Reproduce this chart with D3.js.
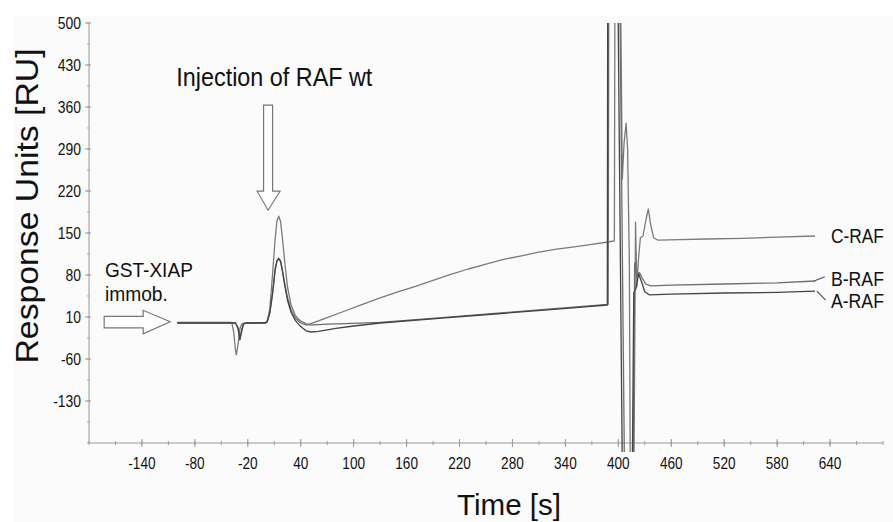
<!DOCTYPE html>
<html lang="en">
<head>
<meta charset="utf-8">
<title>RAF binding to GST-XIAP</title>
<script src="https://cdn.jsdelivr.net/npm/d3@7"></script>
<style>
  body { margin: 0; background: #fff; }
  svg { display: block; }
  .narrow { font-family: "Liberation Sans Narrow", "Arial Narrow", "Liberation Sans", Arial, sans-serif; fill: #111; }
  .wide { font-family: "Liberation Sans", Arial, sans-serif; fill: #111; }
</style>
</head>
<body>
<svg width="893" height="522"></svg>
<script>

// sensorgram traces, [time s, response RU]
var seriesA = [[-100,0],[-40,0],[-34,0],[-31,-8],[-29,-28],[-27,-12],[-25,-2],[-22,0],[0,0],[2,2],[5,17],[8,48],[11,88],[13,103],[15,107],[17,103],[19,88],[22,62],[25,38],[29,18],[34,4],[40,-6],[46,-13],[52,-15],[60,-14],[80,-9],[100,-5],[130,0],[200,8],[260,15],[320,22],[387.5,30],[388.2,800],[398,800],[405.5,-400],[415,-400],[417.5,50],[420,58],[423,82],[426,70],[430,52],[435,47],[460,48],[520,50],[580,51],[623,53]];

var seriesB = [[-100,1],[-40,1],[-34,0],[-31,-10],[-29,-27],[-27,-15],[-25,-2],[-22,0],[0,1],[2,3],[5,18],[8,50],[11,90],[13,104],[15,108],[17,104],[19,90],[22,65],[25,42],[29,22],[34,8],[40,0],[46,-3],[55,-3],[70,-2],[90,-1],[130,1],[200,9],[260,16],[320,23],[388.5,31],[389.5,800],[400,800],[408,-400],[416,-400],[418.5,100],[421,80],[424,84],[427,75],[431,65],[437,62],[460,63],[520,65],[580,67],[623,70]];

var seriesC = [[-100,0],[-38,0],[-36,-15],[-34,-45],[-33,-53],[-31,-35],[-29,-10],[-27,-2],[-24,0],[0,0],[2,2],[5,25],[8,80],[11,140],[13,170],[15,178],[17,170],[19,145],[22,100],[25,60],[29,30],[34,12],[40,3],[46,-1],[50,-2],[70,9],[90,20],[110,31],[130,42],[150,52],[170,61],[190,71],[210,81],[230,90],[250,98],[270,106],[290,112],[310,118],[330,123],[350,127],[370,131],[388,135],[395.5,137],[396.5,800],[401,800],[404.5,240],[406.5,300],[408.8,333],[410.5,290],[412.5,100],[414,-400],[417,-400],[419.5,168],[421,60],[423,110],[425,142],[428,145],[431,170],[434,190],[436.5,165],[440,142],[445,138],[470,139],[500,140],[540,141],[580,143],[623,145]];

var seriesNames = ["A-RAF", "B-RAF", "C-RAF"];
var labelValues = [25, 62, 133];
var xTicks = [-140, -80, -20, 40, 100, 160, 220, 280, 340, 400, 460, 520, 580, 640];
var yTicks = [-130, -60, 10, 80, 150, 220, 290, 360, 430, 500];

var svg = d3.select("svg");

var x = d3.scaleLinear().domain([-200, 700]).range([89, 883]),
    y = d3.scaleLinear().domain([-200, 500]).range([443, 23]);

// squeeze text like the narrow face of the original
function squeeze(sel, k) {
  sel.each(function() {
    var w = this.getComputedTextLength();
    d3.select(this).attr("textLength", w * k).attr("lengthAdjust", "spacingAndGlyphs");
  });
}

svg.append("rect")
    .attr("x", 13).attr("y", 16)
    .attr("width", 880).attr("height", 506)
    .attr("fill", "#fbfbfb");

svg.append("clipPath").attr("id", "plot")
  .append("rect")
    .attr("x", x(-200)).attr("y", y(500))
    .attr("width", x(700) - x(-200)).attr("height", 452 - y(500));

// axes
var xAxis = svg.append("g").attr("transform", "translate(0," + y(-200) + ")");
xAxis.append("line").attr("x1", x(-200)).attr("x2", x(700)).attr("stroke", "#999");
xAxis.selectAll(".minor")
    .data(d3.range(-200, 701, 30))
  .enter().append("line")
    .attr("x1", function(d) { return x(d); }).attr("x2", function(d) { return x(d); })
    .attr("y1", -2).attr("y2", 2)
    .attr("stroke", "#999");
xAxis.selectAll(".major")
    .data(xTicks)
  .enter().append("line")
    .attr("x1", function(d) { return x(d); }).attr("x2", function(d) { return x(d); })
    .attr("y1", -4).attr("y2", 4)
    .attr("stroke", "#999");
xAxis.selectAll("text")
    .data(xTicks)
  .enter().append("text")
    .attr("class", "narrow")
    .attr("x", function(d) { return x(d); })
    .attr("y", 26)
    .attr("text-anchor", "middle")
    .attr("font-size", 16)
    .text(function(d) { return d; })
    .call(squeeze, 0.85);

var yAxis = svg.append("g").attr("transform", "translate(" + x(-200) + ",0)");
yAxis.append("line").attr("y1", y(-200)).attr("y2", y(500)).attr("stroke", "#999");
yAxis.selectAll(".minor")
    .data(d3.range(-200, 501, 35))
  .enter().append("line")
    .attr("y1", function(d) { return y(d); }).attr("y2", function(d) { return y(d); })
    .attr("x1", -2).attr("x2", 1)
    .attr("stroke", "#aaa");
yAxis.selectAll(".major")
    .data(yTicks)
  .enter().append("line")
    .attr("y1", function(d) { return y(d); }).attr("y2", function(d) { return y(d); })
    .attr("x1", -4).attr("x2", 2)
    .attr("stroke", "#999");
yAxis.selectAll("text")
    .data(yTicks)
  .enter().append("text")
    .attr("class", "narrow")
    .attr("x", -8)
    .attr("y", function(d) { return y(d); })
    .attr("dy", "0.35em")
    .attr("text-anchor", "end")
    .attr("font-size", 16)
    .text(function(d) { return d; })
    .call(squeeze, 0.87);

svg.append("text")
    .attr("class", "wide")
    .attr("transform", "translate(38,206) rotate(-90)")
    .attr("text-anchor", "middle")
    .attr("font-size", 32)
    .attr("textLength", 315)
    .attr("lengthAdjust", "spacingAndGlyphs")
    .text("Response Units [RU]");

svg.append("text")
    .attr("class", "narrow")
    .attr("x", 509).attr("y", 515)
    .attr("text-anchor", "middle")
    .attr("font-size", 30)
    .attr("textLength", 104)
    .attr("lengthAdjust", "spacingAndGlyphs")
    .text("Time [s]");

// traces
var line = d3.line()
    .x(function(d) { return x(d[0]); })
    .y(function(d) { return y(d[1]); });

svg.append("g")
    .attr("clip-path", "url(#plot)")
  .selectAll("path")
    .data([seriesC, seriesB, seriesA])
  .enter().append("path")
    .attr("d", line)
    .attr("fill", "none")
    .attr("stroke", function(d, i) { return ["#7a7a7a", "#6e6e6e", "#444"][i]; })
    .attr("stroke-width", 1.3)
    .attr("stroke-linejoin", "round");

// series labels
svg.selectAll(".serieslabel")
    .data(seriesNames)
  .enter().append("text")
    .attr("class", "narrow serieslabel")
    .attr("x", x(641))
    .attr("y", function(d, i) { return y(labelValues[i]); })
    .attr("font-size", 21)
    .attr("textLength", 53)
    .attr("lengthAdjust", "spacingAndGlyphs")
    .text(function(d) { return d; });

svg.append("line")
    .attr("x1", x(622)).attr("y1", y(70)).attr("x2", x(634)).attr("y2", y(77))
    .attr("stroke", "#555").attr("stroke-width", 1.2);
svg.append("line")
    .attr("x1", x(625)).attr("y1", y(53)).attr("x2", x(635)).attr("y2", y(38))
    .attr("stroke", "#555").attr("stroke-width", 1.2);

// annotations
svg.append("text")
    .attr("class", "narrow")
    .attr("x", x(-101)).attr("y", y(395))
    .attr("font-size", 26)
    .attr("textLength", 196)
    .attr("lengthAdjust", "spacingAndGlyphs")
    .text("Injection of RAF wt");

var ax = x(3), ay = y(188);
svg.append("path")
    .attr("d", "M" + (ax - 4.5) + "," + (ay - 105) + "H" + (ax + 4.5) + "V" + (ay - 19) +
               "H" + (ax + 12) + "L" + ax + "," + ay + "L" + (ax - 11) + "," + (ay - 19) +
               "H" + (ax - 4.5) + "Z")
    .attr("fill", "#fff").attr("stroke", "#777").attr("stroke-width", 1.2);

svg.append("text")
    .attr("class", "narrow")
    .attr("x", x(-182)).attr("y", y(77))
    .attr("font-size", 21)
    .attr("textLength", 88)
    .attr("lengthAdjust", "spacingAndGlyphs")
    .text("GST-XIAP");
svg.append("text")
    .attr("class", "narrow")
    .attr("x", x(-182)).attr("y", y(37))
    .attr("font-size", 21)
    .attr("textLength", 63)
    .attr("lengthAdjust", "spacingAndGlyphs")
    .text("immob.");

var bx = x(-108), by = y(2);
svg.append("path")
    .attr("d", "M" + (bx - 66) + "," + (by - 5.5) + "H" + (bx - 27) + "V" + (by - 11.5) +
               "L" + bx + "," + by + "L" + (bx - 27) + "," + (by + 12) + "V" + (by + 6) +
               "H" + (bx - 66) + "Z")
    .attr("fill", "#fff").attr("stroke", "#777").attr("stroke-width", 1.2);

</script>
</body>
</html>
